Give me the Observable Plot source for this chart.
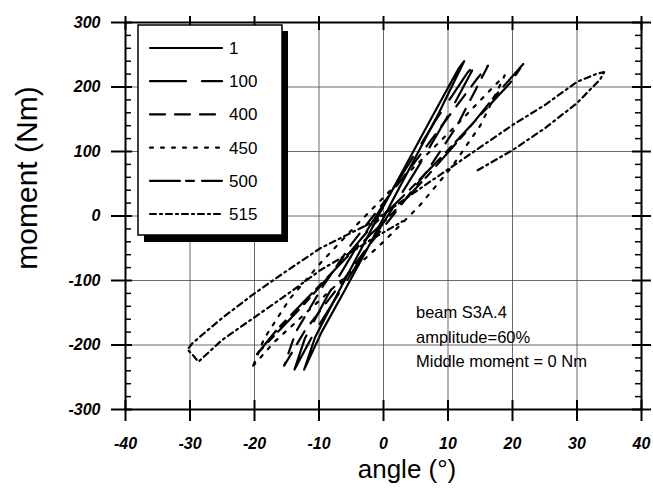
<!DOCTYPE html>
<html><head><meta charset="utf-8">
<script src="https://cdn.jsdelivr.net/npm/d3@7"></script>
<script src="https://cdn.jsdelivr.net/npm/@observablehq/plot@0.6"></script>
<style>
body{margin:0;background:#fff;}
#wrap{position:relative;width:653px;height:489px;}
</style></head><body><div id="wrap"></div>
<script>
// ---- data ----
const cycles = ["1","100","400","450","500","515"];

const angle1  = [-12.3,-9.6,-6.0,-2.2,1.2,4.8,8.6,12.5, 11.6,7.6,3.8,0.0,-3.4,-7.2,-10.6,-12.3];
const moment1 = [-238,-180,-115,-45,20,88,160,240, 228,155,85,15,-50,-122,-188,-238];

const angle100  = [-13.8,-10.8,-6.8,-2.4,1.6,5.6,9.8,14.3, 13.0,8.2,4.0,-0.4,-4.4,-8.6,-12.2,-13.8];
const moment100 = [-238,-182,-118,-48,15,80,152,236, 222,150,82,12,-52,-122,-190,-238];

const angle400  = [-15.4,-12.2,-7.6,-2.6,2.2,6.8,11.4,16.2, 14.6,9.4,4.6,-0.2,-5.0,-9.6,-13.6,-15.4];
const moment400 = [-232,-178,-118,-50,10,70,140,233, 214,145,80,18,-44,-112,-180,-232];

const angle450  = [-20.2,-17.0,-12.0,-6.0,0.0,5.5,10.5,15.0,18.8, 17.0,12.2,7.0,1.5,-4.0,-9.5,-14.5,-18.5,-20.2];
const moment450 = [-232,-196,-150,-95,-40,15,75,140,218, 200,150,98,44,-12,-70,-128,-190,-232];

const angle500  = [-19.6,-16.5,-11.5,-5.5,0.8,6.8,12.6,17.2,21.7, 19.6,14.6,9.8,4.0,-2.0,-7.4,-12.6,-17.0,-19.6];
const moment500 = [-214,-176,-124,-62,-2,62,128,185,236, 206,152,100,40,-18,-82,-140,-186,-214];

const angle515  = [14.6,20.0,25.0,30.0,33.6,34.2,33.2,30.0,25.0,20.0,12.0,3.7,-2.0,-9.8,-15.0,-20.0,-25.0,-29.6,-30.4,-29.6,-28.7,-25.0,-20.0,-15.0,-9.8,-5.0,-2.0,3.0];
const moment515 = [71,102,136,175,212,223,221,208,172,141,86,29,-11,-50,-85,-120,-158,-197,-207,-215,-226,-192,-157,-122,-84,-56,-37,-8];

const xTicks = [-40,-30,-20,-10,0,10,20,30,40];
const yTicks = [-300,-200,-100,0,100,200,300];
const yMinor = [-280,-260,-240,-220,-180,-160,-140,-120,-80,-60,-40,-20,20,40,60,80,120,140,160,180,220,240,260,280];

const xTitle = "angle (°)";
const yTitle = "moment (Nm)";
const noteLines = ["beam S3A.4","amplitude=60%","Middle moment = 0 Nm"];

// ---- build ----
const seriesAngles  = {"1":angle1,"100":angle100,"400":angle400,"450":angle450,"500":angle500,"515":angle515};
const seriesMoments = {"1":moment1,"100":moment100,"400":moment400,"450":moment450,"500":moment500,"515":moment515};
const dashes = {"1":null,"100":"36,16","400":"15,10","450":"3,8","500":"30,6,8,8","515":"6,4,2,4"};

const rows = cycles.flatMap(c => seriesAngles[c].map((a,i) => ({cycle:c, i, angle:a, moment:seriesMoments[c][i]})));

const W=653, H=489, mL=125, mR=12, mT=22, mB=80;
const pW = W-mL-mR, pH = H-mT-mB;
const tickFont = {fontSize:16, fontWeight:"bold", fontStyle:"italic"};

const svg = Plot.plot({
  width: W, height: H,
  marginLeft: mL, marginRight: mR, marginTop: mT, marginBottom: mB,
  style: {fontFamily: "'Liberation Sans', Arial, sans-serif", background: "#fff", color: "#000"},
  x: {domain: [-40, 40]},
  y: {domain: [-300, 300]},
  marks: [
    Plot.gridX(xTicks, {stroke:"#444", strokeWidth:0.8, strokeOpacity:1}),
    Plot.gridY(yTicks, {stroke:"#444", strokeWidth:0.8, strokeOpacity:1}),
    ...cycles.map(c => Plot.line(rows.filter(r => r.cycle === c), {
      x:"angle", y:"moment", stroke:"#000", strokeWidth:2.2,
      strokeDasharray: dashes[c] ?? undefined, strokeLinecap: "round", curve:"linear"
    })),
    Plot.frame({stroke:"#000", strokeWidth:2}),
    Plot.axisX(xTicks, {anchor:"bottom", tickSize:12, tickPadding:16, tickFormat:d=>String(d), label:null, strokeWidth:2, ...tickFont}),
    Plot.axisX(xTicks, {anchor:"top", tickSize:7, tickFormat:()=>"", label:null, strokeWidth:2}),
    Plot.axisY(yTicks, {anchor:"left", tickSize:14, tickPadding:11, tickFormat:d=>String(d), label:null, strokeWidth:2, ...tickFont}),
    Plot.axisY(yTicks, {anchor:"right", tickSize:9, tickFormat:()=>"", label:null, strokeWidth:2}),
    Plot.tickX(xTicks, {x:d=>d, insetTop:pH-9, strokeWidth:2}),
    Plot.tickX(xTicks, {x:d=>d, insetBottom:pH-8, strokeWidth:2}),
    Plot.tickY(yTicks, {y:d=>d, insetRight:pW-7, strokeWidth:2}),
    Plot.tickY(yTicks, {y:d=>d, insetLeft:pW-9, strokeWidth:2}),
    Plot.tickY(yMinor, {y:d=>d, insetRight:pW-6, strokeWidth:1.5}),
    Plot.tickY(yMinor, {y:d=>d, insetLeft:pW-6, strokeWidth:1.5})
  ]
});

const s = d3.select(svg);
// axis titles
s.append("text").attr("x", 407).attr("y", 478).attr("text-anchor","middle")
  .attr("font-size", 26).attr("fill","#000").text(xTitle);
s.append("text").attr("transform","translate(37,178) rotate(-90)").attr("text-anchor","middle")
  .attr("font-size", 30).attr("fill","#000").text(yTitle);

// legend box with shadow
const lg = s.append("g");
lg.append("rect").attr("x",144).attr("y",31).attr("width",144).attr("height",211).attr("fill","#000");
lg.append("rect").attr("x",138).attr("y",25).attr("width",144).attr("height",210)
  .attr("fill","#fff").attr("stroke","#000").attr("stroke-width",1.5);
cycles.forEach((c,i) => {
  const yy = 48 + i*33.2;
  lg.append("line").attr("x1",150).attr("x2",222).attr("y1",yy).attr("y2",yy)
    .attr("stroke","#000").attr("stroke-width",2.2).attr("stroke-linecap","round")
    .attr("stroke-dasharray", dashes[c]);
  lg.append("text").attr("x",229).attr("y",yy+6).attr("text-anchor","start")
    .attr("font-size",17).attr("fill","#000").text(c);
});

// annotation
noteLines.forEach((t,i) => {
  s.append("text").attr("x",416).attr("y",318 + i*24.5).attr("text-anchor","start")
    .attr("font-size",16.5).attr("fill","#000").text(t);
});

document.getElementById("wrap").appendChild(svg);
</script>
</body></html>
